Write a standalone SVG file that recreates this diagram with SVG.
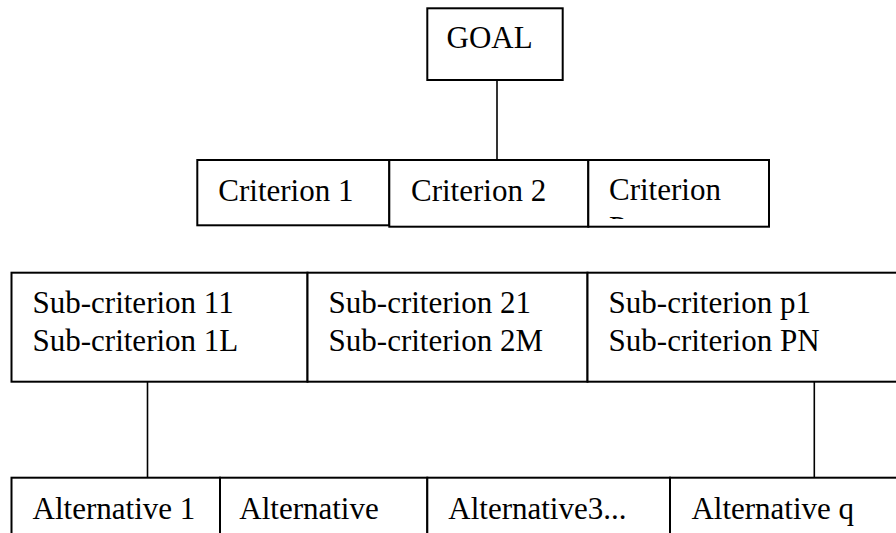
<svg xmlns="http://www.w3.org/2000/svg" width="896" height="533" viewBox="0 0 896 533">
<style>
.box{fill:#fff;stroke:#000;stroke-width:2}
.t{font-family:"Liberation Serif","Times New Roman",serif;font-size:31px;fill:#000}
.c{stroke:#000;stroke-width:1.6;fill:none}
</style>
<defs>
<clipPath id="clipP"><rect x="589" y="160" width="180" height="59"/></clipPath>
</defs>
<rect width="896" height="533" fill="#fff"/>
<g id="connectors">
<line class="c" x1="497" y1="80" x2="497" y2="160"/>
<line class="c" x1="147.5" y1="381.7" x2="147.5" y2="477.7"/>
<line class="c" x1="814.3" y1="381.7" x2="814.3" y2="477.7"/>
</g>
<g id="goal">
<rect class="box" x="427.3" y="8.3" width="135.4" height="71.7"/>
<text class="t" x="446.5" y="48.3">GOAL</text>
</g>
<g id="criterion1">
<rect class="box" x="197.3" y="160" width="192" height="65.3"/>
<text class="t" x="218.3" y="201">Criterion 1</text>
</g>
<g id="criterion2">
<rect class="box" x="389.3" y="160" width="199" height="66.7"/>
<text class="t" x="411" y="201">Criterion 2</text>
</g>
<g id="criterionp">
<rect class="box" x="588.3" y="160" width="180.7" height="66.7"/>
<text class="t" x="609" y="200">Criterion</text>
<text class="t" x="609" y="237.5" clip-path="url(#clipP)">P</text>
</g>
<g id="sub1">
<rect class="box" x="11.5" y="272.7" width="296" height="109"/>
<text class="t" x="32.5" y="312.5">Sub-criterion 11</text>
<text class="t" x="32.5" y="350.5">Sub-criterion 1L</text>
</g>
<g id="sub2">
<rect class="box" x="307.5" y="272.7" width="280" height="109"/>
<text class="t" x="328.6" y="312.5">Sub-criterion 21</text>
<text class="t" x="328.6" y="350.5">Sub-criterion 2M</text>
</g>
<g id="subp">
<rect class="box" x="587.5" y="272.7" width="320" height="109"/>
<text class="t" x="608.6" y="312.5">Sub-criterion p1</text>
<text class="t" x="608.6" y="350.5">Sub-criterion PN</text>
</g>
<g id="alt1">
<rect class="box" x="11.5" y="477.7" width="208.5" height="80"/>
<text class="t" x="32.6" y="519">Alternative 1</text>
</g>
<g id="alt2">
<rect class="box" x="220" y="477.7" width="207.3" height="80"/>
<text class="t" x="239.3" y="519">Alternative</text>
</g>
<g id="alt3">
<rect class="box" x="427.3" y="477.7" width="242.7" height="80"/>
<text class="t" x="448.3" y="519">Alternative3...</text>
</g>
<g id="altq">
<rect class="box" x="670" y="477.7" width="240" height="80"/>
<text class="t" x="691.4" y="519">Alternative q</text>
</g>
</svg>
